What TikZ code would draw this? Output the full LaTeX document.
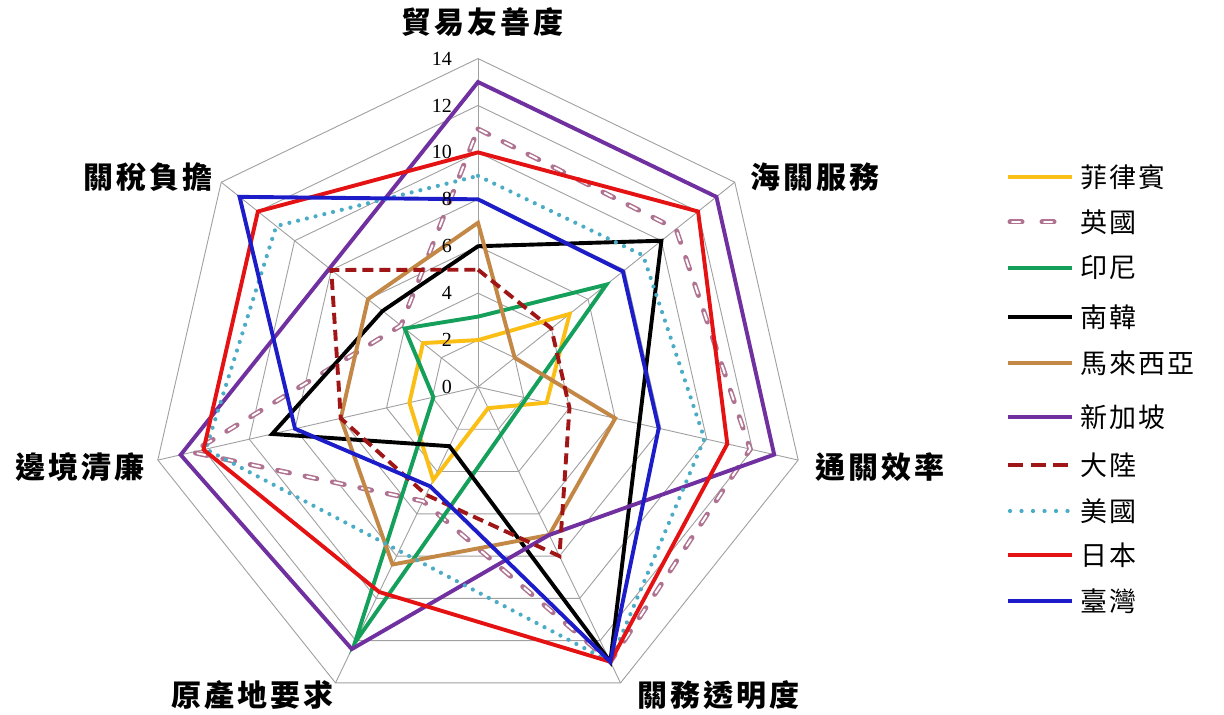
\documentclass[tikz,border=0pt]{standalone}
\usepackage{fontspec}
\setmainfont{Liberation Serif}
\newfontfamily\cjkb{Noto Sans CJK TC}[LetterSpace=10]
\newfontfamily\cjkl{Noto Sans CJK TC}[LetterSpace=8]
\definecolor{cPhil}{RGB}{250,190,20}
\definecolor{cUK}{RGB}{175,115,145}
\definecolor{cIndo}{RGB}{20,160,90}
\definecolor{cKor}{RGB}{0,0,0}
\definecolor{cMal}{RGB}{195,135,70}
\definecolor{cSing}{RGB}{112,48,160}
\definecolor{cChina}{RGB}{160,22,22}
\definecolor{cUSA}{RGB}{75,172,198}
\definecolor{cJap}{RGB}{228,18,18}
\definecolor{cTw}{RGB}{28,28,200}
\definecolor{cGrid}{RGB}{160,160,160}
\def\U{23.46}
\newcommand\rp[7]{(90:{#1*\U}) -- (38.5714:{#2*\U}) -- (-12.8571:{#3*\U}) -- (-64.2857:{#4*\U}) -- (-115.7143:{#5*\U}) -- (-167.1429:{#6*\U}) -- (141.4286:{#7*\U}) -- cycle}
\tikzset{
  ser/.style={line width=3.9pt, line join=miter},
  phil/.style={ser, cPhil},
  ukout/.style={line width=5pt, cUK, line cap=round, dash pattern=on 12pt off 16pt},
  ukin/.style={line width=2pt, white, line cap=round, dash pattern=on 8pt off 20pt, dash phase=26pt},
  indo/.style={ser, cIndo},
  kor/.style={ser, cKor},
  mal/.style={ser, cMal},
  sing/.style={ser, cSing},
  china/.style={ser, cChina, dash pattern=on 11pt off 6pt},
  usa/.style={line width=4.2pt, cUSA, line cap=round, dash pattern=on 0pt off 9pt},
  jap/.style={ser, cJap},
  tw/.style={ser, cTw},
  gridl/.style={line width=0.9pt, cGrid},
  cat/.style={font=\cjkb\bfseries\fontsize{30}{33}\selectfont, inner sep=0pt},
  leg/.style={font=\cjkl\fontsize{27}{30}\selectfont, inner sep=0pt, anchor=west},
  tick/.style={font=\fontsize{20}{22}\selectfont, inner sep=0pt, anchor=east},
}
\begin{document}
\begin{tikzpicture}[x=1pt,y=1pt]
\useasboundingbox (0,0) rectangle (1224,715);
\fill[white] (0,0) rectangle (1224,715);
\begin{scope}[shift={(478,328)}]
  % grid
  \foreach \r in {2,4,...,14} \draw[gridl] \rp{\r}{\r}{\r}{\r}{\r}{\r}{\r};
  \foreach \a in {90,38.5714,-12.8571,-64.2857,-115.7143,-167.1429,141.4286}
    \draw[gridl] (0,0) -- (\a:{14*\U});
  % series
  \draw[phil] \rp{2}{5}{3}{1}{4.4}{3}{3};
  \draw[ukout] \rp{11}{10.8}{11.9}{13}{5.4}{12.5}{4.2};
  \draw[ukin] \rp{11}{10.8}{11.9}{13}{5.4}{12.5}{4.2};
  \draw[indo] \rp{3}{7}{2.12}{2.25}{12.1}{1.95}{4};
  \draw[kor] \rp{6}{10}{7.05}{13}{2.8}{9}{5.2};
  \draw[mal] \rp{7}{2}{6}{7}{8.4}{6}{6};
  \draw[sing] \rp{13}{13}{12.95}{7}{12.4}{13}{8.1};
  \draw[china] \rp{5}{4}{4}{8}{5.1}{6}{8};
  \draw[usa] \rp{9}{9}{9.9}{13}{7.75}{11.9}{11};
  \draw[jap] \rp{10}{12}{10.9}{13}{9.7}{12}{12};
  \draw[tw] \rp{8}{7.9}{7.9}{13}{4.7}{8}{13};
  % tick labels
  \foreach \v in {0,2,...,14} \node[tick] (t\v) at (-26,{\v*\U}) {\v};
\end{scope}
% category labels
\node[cat] (c1) at (482,693) {貿易友善度};
\node[cat] (c2) at (815,538) {海關服務};
\node[cat] (c3) at (880,248) {通關效率};
\node[cat] (c4) at (718,20) {關務透明度};
\node[cat] (c5) at (252,20) {原產地要求};
\node[cat] (c6) at (80,248) {邊境清廉};
\node[cat] (c7) at (148,538) {關稅負擔};
% legend
\def\LA{1008}\def\LB{1072}\def\LT{1080}
\coordinate (l1a) at (\LA,538); \coordinate (l1b) at (\LB,538);
\draw[phil] (l1a) -- (l1b);
\node[leg] (n1) at (\LT,538) {菲律賓};
\coordinate (l2a) at (\LA,493); \coordinate (l2b) at (\LB,493);
\draw[ukout, dash pattern=on 12pt off 20pt, dash phase=-2pt] (l2a) -- (l2b);
\draw[ukin, dash pattern=on 8pt off 24pt, dash phase=-4pt] (l2a) -- (l2b);
\node[leg] (n2) at (\LT,493) {英國};
\coordinate (l3a) at (\LA,447); \coordinate (l3b) at (\LB,447);
\draw[indo] (l3a) -- (l3b);
\node[leg] (n3) at (\LT,447) {印尼};
\coordinate (l4a) at (\LA,398); \coordinate (l4b) at (\LB,398);
\draw[kor] (l4a) -- (l4b);
\node[leg] (n4) at (\LT,398) {南韓};
\coordinate (l5a) at (\LA,352); \coordinate (l5b) at (\LB,352);
\draw[mal] (l5a) -- (l5b);
\node[leg] (n5) at (\LT,352) {馬來西亞};
\coordinate (l6a) at (\LA,298); \coordinate (l6b) at (\LB,298);
\draw[sing] (l6a) -- (l6b);
\node[leg] (n6) at (\LT,298) {新加坡};
\coordinate (l7a) at (\LA,250); \coordinate (l7b) at (\LB,250);
\draw[china, dash pattern=on 15pt off 7.5pt] (l7a) -- (l7b);
\node[leg] (n7) at (\LT,250) {大陸};
\coordinate (l8a) at ({\LA+2},204); \coordinate (l8b) at (\LB,204);
\draw[usa, dash pattern=on 0pt off 11.5pt] (l8a) -- (l8b);
\node[leg] (n8) at (\LT,204) {美國};
\coordinate (l9a) at (\LA,160); \coordinate (l9b) at (\LB,160);
\draw[jap] (l9a) -- (l9b);
\node[leg] (n9) at (\LT,160) {日本};
\coordinate (l10a) at (\LA,114); \coordinate (l10b) at (\LB,114);
\draw[tw] (l10a) -- (l10b);
\node[leg] (n10) at (\LT,114) {臺灣};
\end{tikzpicture}
\end{document}
